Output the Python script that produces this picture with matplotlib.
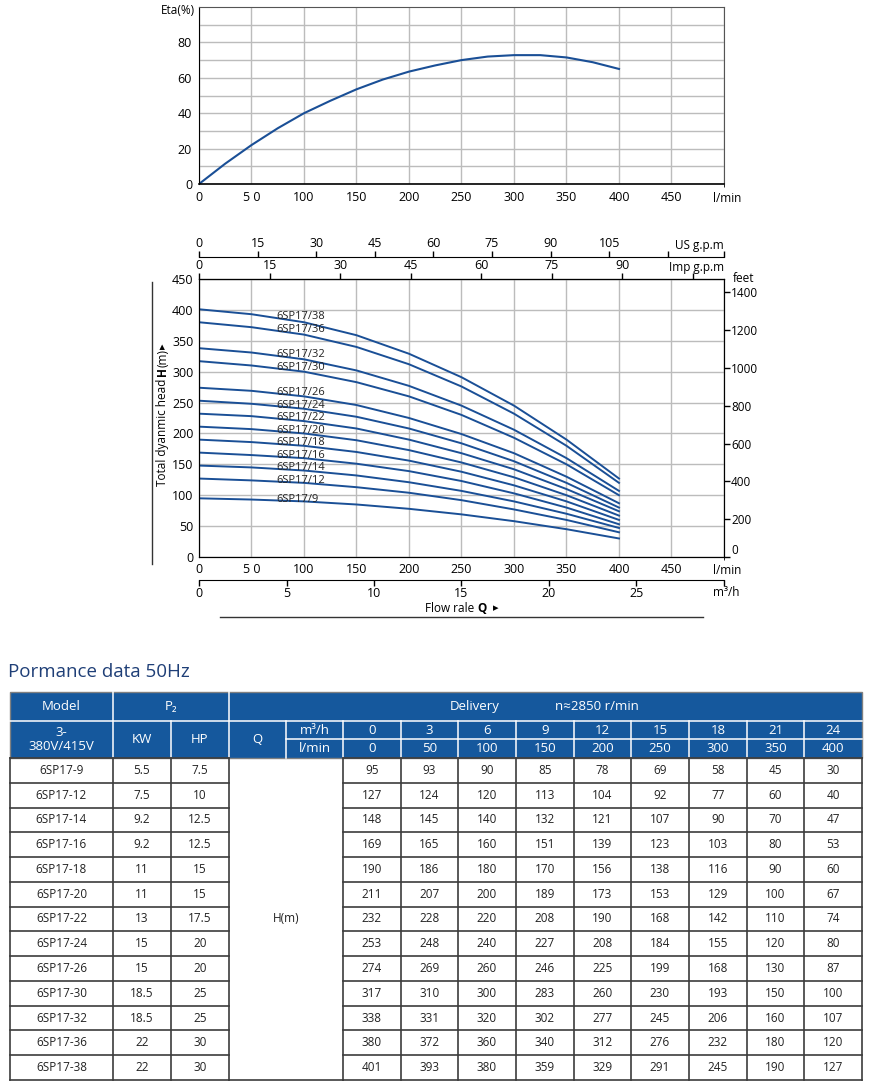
import matplotlib
matplotlib.use('Agg')
import matplotlib.pyplot as plt
import numpy as np

plt.rcParams['font.family'] = ['Open Sans', 'DejaVu Sans']

# ---- data ----
flow_m3h = [0, 3, 6, 9, 12, 15, 18, 21, 24]
flow_lpm = [0, 50, 100, 150, 200, 250, 300, 350, 400]

models = ['6SP17-9', '6SP17-12', '6SP17-14', '6SP17-16', '6SP17-18', '6SP17-20', '6SP17-22',
          '6SP17-24', '6SP17-26', '6SP17-30', '6SP17-32', '6SP17-36', '6SP17-38']
power_kw = ['5.5', '7.5', '9.2', '9.2', '11', '11', '13', '15', '15', '18.5', '18.5', '22', '22']
power_hp = ['7.5', '10', '12.5', '12.5', '15', '15', '17.5', '20', '20', '25', '25', '30', '30']
head = [
    [95, 93, 90, 85, 78, 69, 58, 45, 30],
    [127, 124, 120, 113, 104, 92, 77, 60, 40],
    [148, 145, 140, 132, 121, 107, 90, 70, 47],
    [169, 165, 160, 151, 139, 123, 103, 80, 53],
    [190, 186, 180, 170, 156, 138, 116, 90, 60],
    [211, 207, 200, 189, 173, 153, 129, 100, 67],
    [232, 228, 220, 208, 190, 168, 142, 110, 74],
    [253, 248, 240, 227, 208, 184, 155, 120, 80],
    [274, 269, 260, 246, 225, 199, 168, 130, 87],
    [317, 310, 300, 283, 260, 230, 193, 150, 100],
    [338, 331, 320, 302, 277, 245, 206, 160, 107],
    [380, 372, 360, 340, 312, 276, 232, 180, 120],
    [401, 393, 380, 359, 329, 291, 245, 190, 127],
]

eta_q = [0, 25, 50, 75, 100, 125, 150, 175, 200, 225, 250, 275, 300, 325, 350, 375, 400]
eta = [0, 11.5, 22, 31.5, 40, 47, 53.5, 59, 63.5, 67, 70, 72, 72.8, 72.8, 71.5, 68.8, 65]

x_ticks = [0, 50, 100, 150, 200, 250, 300, 350, 400, 450]
x_labels = ['0', '5 0', '100', '150', '200', '250', '300', '350', '400', '450']
us_ticks = [0, 15, 30, 45, 60, 75, 90, 105, 120]
imp_ticks = [0, 15, 30, 45, 60, 75, 90, 105]
m3h_ticks = [0, 5, 10, 15, 20, 25]
feet_ticks = [0, 200, 400, 600, 800, 1000, 1200, 1400]

LPM_PER_US = 3.72
LPM_PER_IMP = 4.48

W, H = 870, 1085
BLUE = '#1a4f96'
HDR = '#15589d'
GRID = '#bcbcbc'


def px_box(l, t, r, b):
    return [l / W, 1 - b / H, (r - l) / W, (b - t) / H]


fig = plt.figure(figsize=(W / 100, H / 100), dpi=100)

# ---- efficiency chart ----
ax1 = fig.add_axes(px_box(199, 7, 724, 184))
ax1.plot(eta_q, eta, color=BLUE, lw=1.5)
ax1.set_xlim(0, 500)
ax1.set_ylim(0, 100)
ax1.set_xticks(x_ticks)
ax1.set_xticklabels(x_labels)
ax1.set_xticks([500], minor=True)
ax1.set_yticks(range(0, 100, 10))
ax1.set_yticklabels([str(v) if v % 20 == 0 else '' for v in range(0, 100, 10)])
ax1.grid(True, which='both', color=GRID, lw=1.0)
ax1.tick_params(length=0, labelsize=9, pad=5)
for s in ax1.spines.values():
    s.set_color('#555555')
ax1.spines['left'].set_color('black')
ax1.spines['bottom'].set_color('black')
ax1.spines['bottom'].set_linewidth(1.2)

# ---- head chart ----
ax2 = fig.add_axes(px_box(199, 279, 724, 557))
for name, h in zip(models, head):
    ax2.plot(flow_lpm, h, color=BLUE, lw=1.4)
    ax2.text(74, np.interp(75, flow_lpm, h) + 2, name.replace('-', '/'),
             fontsize=8, va='center', ha='left', color='#222222')
ax2.set_xlim(0, 500)
ax2.set_ylim(0, 450)
ax2.set_xticks(x_ticks)
ax2.set_xticklabels(x_labels)
ax2.set_xticks([500], minor=True)
ax2.set_yticks(range(0, 451, 50))
ax2.grid(True, which='both', color=GRID, lw=1.0)
ax2.tick_params(length=0, labelsize=9, pad=4)
for s in ax2.spines.values():
    s.set_color('black')

ax2r = ax2.twinx()
ax2r.set_ylim(0, 1470)
ax2r.set_yticks(feet_ticks)
ax2r.tick_params(direction='out', length=4, width=1, labelsize=8.5, pad=1)
ax2r.get_yticklabels()[0].set_verticalalignment('bottom')
for s in ax2r.spines.values():
    s.set_color('black')

imp = ax2.secondary_xaxis('top', functions=(lambda x: x / LPM_PER_IMP, lambda x: x * LPM_PER_IMP))
imp.set_xticks(imp_ticks)
imp.set_xticklabels([str(v) for v in imp_ticks[:-1]] + [''])
imp.tick_params(direction='out', length=4, width=1, labelsize=9, pad=1)

us = ax2.secondary_xaxis(1 + 22 / 278, functions=(lambda x: x / LPM_PER_US, lambda x: x * LPM_PER_US))
us.set_xticks(us_ticks + [500 / LPM_PER_US])
us.set_xticklabels([str(v) for v in us_ticks[:-1]] + ['', ''])
us.tick_params(direction='out', length=4, width=1, labelsize=9, pad=1)

m3 = ax2.secondary_xaxis(-23 / 278, functions=(lambda x: x * 0.06, lambda x: x / 0.06))
m3.set_xticks(m3h_ticks + [30])
m3.set_xticklabels([str(v) for v in m3h_ticks] + [''])
m3.tick_params(direction='out', length=4, width=1, labelsize=9, pad=1)

# ---- overlay in pixel coordinates ----
ov = fig.add_axes([0, 0, 1, 1])
ov.set_xlim(0, W)
ov.set_ylim(H, 0)
ov.axis('off')
renderer = fig.canvas.get_renderer()


def chain(pieces, x, y, rotation=0):
    # place text pieces one after another (mixed weights / fonts)
    for s, gap, kw in pieces:
        t = ov.text(x, y, s, rotation=rotation, rotation_mode='anchor',
                    ha='left', va='center', **kw)
        bb = t.get_window_extent(renderer)
        if rotation == 90:
            y -= bb.height + gap
        else:
            x += bb.width + gap


ov.text(178, 10, 'Eta(%)', fontsize=8.5, ha='center', va='center')
ov.text(713, 198, 'l/min', fontsize=8.5, ha='left', va='center')
ov.text(724, 245, 'US g.p.m', fontsize=8.5, ha='right', va='center')
ov.text(724, 268, 'Imp g.p.m', fontsize=8.5, ha='right', va='center')
ov.text(733, 279, 'feet', fontsize=8.5, ha='left', va='center')
ov.text(713, 570, 'l/min', fontsize=8.5, ha='left', va='center')
ov.text(713, 592, 'm³/h', fontsize=8.5, ha='left', va='center')
chain([('Flow rale', 3, dict(fontsize=8.5)),
       ('Q', 6, dict(fontsize=8.5, weight='bold')),
       ('▸', 0, dict(fontsize=8, family=['DejaVu Sans']))], 425, 608)
ov.plot([220, 703], [617, 617], color='#333333', lw=1)
ov.plot([152, 152], [282, 564], color='#333333', lw=1)
chain([('Total dyanmic head', 3, dict(fontsize=8.5)),
       ('H', 0, dict(fontsize=8.5, weight='bold')),
       ('(m)', 0, dict(fontsize=8.5)),
       ('▸', 0, dict(fontsize=8, family=['DejaVu Sans']))], 163, 486, rotation=90)

# ---- table ----
ov.text(8, 672, 'Pormance data 50Hz', fontsize=13.5, color='#1f3f77', ha='left', va='center')

cols = [10, 113, 171, 229, 286, 343, 401, 458, 516, 574, 631, 689, 747, 804, 862]
r0, r1, r2, r3 = 692, 721, 739, 758
bottom = 1080
row_h = (bottom - r3) / len(models)

ov.add_patch(plt.Rectangle((cols[0], r0), cols[-1] - cols[0], r3 - r0,
                           facecolor=HDR, edgecolor='#808080', lw=1))
wl = dict(color='white', lw=1.1)
for x in [113, 229]:
    ov.plot([x, x], [r0, r3], **wl)
for x in [171, 286] + cols[5:-1]:
    ov.plot([x, x], [r1, r3], **wl)
ov.plot([cols[0], cols[-1]], [r1, r1], **wl)
ov.plot([286, cols[-1]], [r2, r2], **wl)

ht = dict(color='white', fontsize=9.5, ha='center', va='center')
ov.text((10 + 113) / 2, (r0 + r1) / 2, 'Model', **ht)
ov.text((113 + 229) / 2, (r0 + r1) / 2, 'P₂', **ht)
ov.text(475, (r0 + r1) / 2, 'Delivery', **ht)
ov.text(597, (r0 + r1) / 2, 'n≈2850 r/min', **ht)
ov.text((10 + 113) / 2, (r1 + r3) / 2, '3-\n380V/415V', linespacing=1.0, **ht)
ov.text((113 + 171) / 2, (r1 + r3) / 2, 'KW', **ht)
ov.text((171 + 229) / 2, (r1 + r3) / 2, 'HP', **ht)
ov.text((229 + 286) / 2, (r1 + r3) / 2, 'Q', **ht)
ov.text((286 + 343) / 2, (r1 + r2) / 2, 'm³/h', **ht)
ov.text((286 + 343) / 2, (r2 + r3) / 2, 'l/min', **ht)
for i in range(len(flow_m3h)):
    cx = (cols[5 + i] + cols[6 + i]) / 2
    ov.text(cx, (r1 + r2) / 2 + 0.5, str(flow_m3h[i]), **ht)
    ov.text(cx, (r2 + r3) / 2 + 0.5, str(flow_lpm[i]), **ht)

dl = dict(color='#3c3c3c', lw=1.2)
for k in range(len(models) + 1):
    y = r3 + k * row_h
    ov.plot([cols[0], cols[3]], [y, y], **dl)
    ov.plot([cols[5], cols[-1]], [y, y], **dl)
ov.plot([cols[3], cols[5]], [bottom, bottom], **dl)
for x in cols[:4] + cols[5:]:
    ov.plot([x, x], [r3, bottom], **dl)

dt = dict(color='#222222', fontsize=8.5, ha='center', va='center')
for k, name in enumerate(models):
    cy = r3 + (k + 0.5) * row_h
    ov.text((cols[0] + cols[1]) / 2, cy, name, **dt)
    ov.text((cols[1] + cols[2]) / 2, cy, power_kw[k], **dt)
    ov.text((cols[2] + cols[3]) / 2, cy, power_hp[k], **dt)
    for i, v in enumerate(head[k]):
        ov.text((cols[5 + i] + cols[6 + i]) / 2, cy, str(v), **dt)
ov.text((cols[3] + cols[5]) / 2, (r3 + bottom) / 2, 'H(m)', **dt)

fig.savefig('out.png', dpi=100)
